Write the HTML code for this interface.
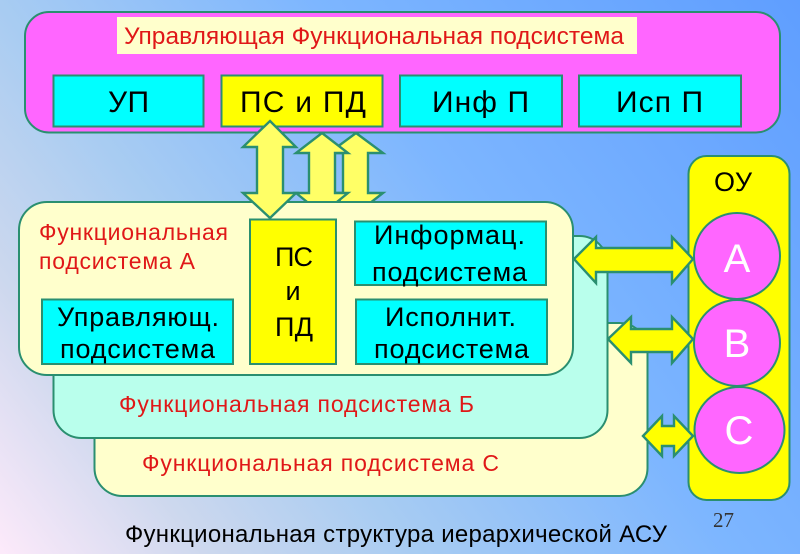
<!DOCTYPE html>
<html lang="ru">
<head>
<meta charset="utf-8">
<title>Функциональная структура</title>
<style>
html,body{margin:0;padding:0;width:800px;height:554px;overflow:hidden}
body{background:linear-gradient(53deg,#fdeafa 0%,#cdd8ee 17%,#a8ccf2 34%,#7db6ff 60%,#5f9eff 100%)}
svg{display:block;position:absolute;left:0;top:0;filter:blur(.35px)}
text{font-family:"Liberation Sans",sans-serif;fill:#000}
.r{fill:#e01818}
.w{fill:#fff}
.s{stroke:#2a8f70;stroke-width:2}
.a{stroke:#2a8f70;stroke-width:2.4}
</style>
</head>
<body>
<svg width="800" height="554" viewBox="0 0 800 554" xmlns="http://www.w3.org/2000/svg">
<!-- top panel -->
<rect class="s" x="25" y="12" width="755" height="120.500" rx="24" fill="#ff66ff"/>
<rect x="117" y="17" width="520" height="37" fill="#ffffcc"/>
<text class="r" x="124" y="44" font-size="24.500" textLength="500">Управляющая Функциональная подсистема</text>
<rect class="s" x="53.500" y="75.500" width="150" height="51" fill="#00ffff"/>
<rect class="s" x="221.500" y="75.500" width="161" height="51" fill="#ffff00"/>
<rect class="s" x="400" y="75.500" width="162" height="51" fill="#00ffff"/>
<rect class="s" x="579" y="75.500" width="162" height="51" fill="#00ffff"/>
<text x="108" y="112" font-size="30" textLength="41">УП</text>
<text x="240" y="112" font-size="30" textLength="126">ПС и ПД</text>
<text x="432" y="112" font-size="30" textLength="97">Инф П</text>
<text x="616" y="112" font-size="30" textLength="87">Исп П</text>

<!-- back vertical arrows -->
<polygon class="a" fill="#ffff66" points="356,133 383,153 368,153 368,193 383,193 356,214 329,193 343,193 343,153 329,153"/>
<polygon class="a" fill="#ffff66" points="322,133 348,153 335,153 335,193 348,193 322,214 296,193 309,193 309,153 296,153"/>

<!-- stacked panels -->
<rect class="s" x="94.500" y="323" width="553" height="173" rx="28" fill="#ffffcc"/>
<rect class="s" x="53.500" y="236" width="554" height="202" rx="28" fill="#b9ffec"/>
<rect class="s" x="19" y="202" width="554" height="173" rx="28" fill="#ffffcc"/>
<text class="r" x="119" y="412" font-size="23" textLength="355">Функциональная подсистема Б</text>
<text class="r" x="142" y="471" font-size="23" textLength="357">Функциональная подсистема С</text>
<text class="r" x="39" y="240" font-size="23" textLength="189">Функциональная</text>
<text class="r" x="39" y="269" font-size="23" textLength="156">подсистема А</text>

<!-- inner boxes -->
<rect class="s" x="250" y="219.500" width="86" height="144.500" fill="#ffff00"/>
<rect class="s" x="355" y="221.500" width="191" height="63.500" fill="#00ffff"/>
<rect class="s" x="356" y="299.500" width="191" height="64.500" fill="#00ffff"/>
<rect class="s" x="42" y="299.500" width="191" height="64.500" fill="#00ffff"/>
<text x="275" y="266" font-size="27" textLength="38">ПС</text>
<text x="293" y="300" font-size="27" text-anchor="middle">и</text>
<text x="275" y="336" font-size="27" textLength="38">ПД</text>
<text x="374" y="244" font-size="27" textLength="151">Информац.</text>
<text x="372" y="281" font-size="27" textLength="155">подсистема</text>
<text x="385" y="326" font-size="27" textLength="131">Исполнит.</text>
<text x="374" y="358" font-size="27" textLength="155">подсистема</text>
<text x="57" y="326" font-size="27" textLength="162">Управляющ.</text>
<text x="60" y="358" font-size="27" textLength="155">подсистема</text>

<!-- front vertical arrow -->
<polygon class="a" fill="#ffff66" points="270,121 296,147 283,147 283,193 296,193 270,218 243,193 257,193 257,147 243,147"/>

<!-- OU column -->
<rect class="s" x="688.500" y="156" width="101" height="344" rx="18" fill="#ffff00"/>
<text x="714" y="191" font-size="27" textLength="38">ОУ</text>
<circle class="s" cx="737" cy="256" r="43" fill="#ff66ff"/>
<circle class="s" cx="737" cy="343" r="43" fill="#ff66ff"/>
<ellipse class="s" cx="739.500" cy="430" rx="45" ry="43" fill="#ff66ff"/>
<text class="w" x="737" y="272" font-size="40" text-anchor="middle">А</text>
<text class="w" x="737" y="357" font-size="40" text-anchor="middle">В</text>
<text class="w" x="739" y="444" font-size="40" text-anchor="middle">С</text>

<!-- horizontal arrows -->
<polygon class="a" fill="#ffff00" points="574,259 596,237 596,248 672,248 672,237 693,259 672,283 672,272 596,272 596,283"/>
<polygon class="a" fill="#ffff00" points="608,339 631,317 631,329 672,329 672,317 693,339 672,363 672,352 631,352 631,363"/>
<polygon class="a" fill="#ffff00" points="643,436 662,416 662,426 674,426 674,416 693,436 674,456 674,446 662,446 662,456"/>

<!-- footer -->
<text x="125" y="542" font-size="24" textLength="542">Функциональная структура иерархической АСУ</text>
<text x="713" y="527" font-size="21" style="font-family:'Liberation Serif',serif;fill:#333">27</text>
</svg>
</body>
</html>
